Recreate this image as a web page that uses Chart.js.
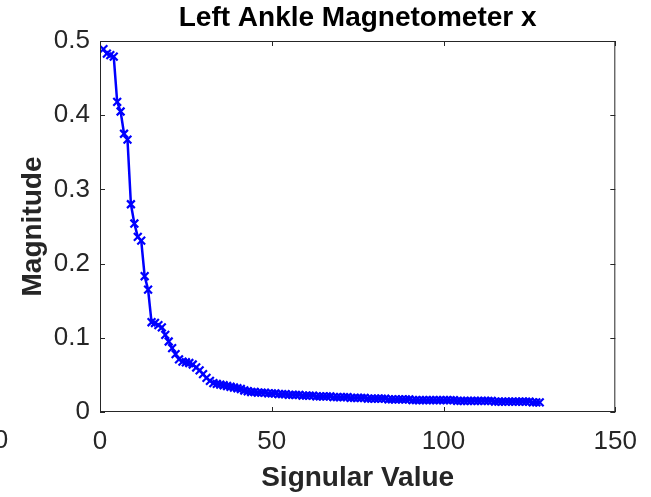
<!DOCTYPE html>
<html>
<head>
<meta charset="utf-8">
<script src="https://cdn.jsdelivr.net/npm/chart.js@4/dist/chart.umd.min.js"></script>
<style>
  html, body { margin: 0; padding: 0; background: #fff; }
  #wrap { width: 651px; height: 497px; }
</style>
</head>
<body>
<div id="wrap"><canvas id="svdChart" width="651" height="497"></canvas></div>
<script>
// singular value magnitudes, index 1..128
const magnitudes = [
  0.489, 0.483, 0.481, 0.479, 0.418, 0.405, 0.375, 0.367, 0.280, 0.254,
  0.236, 0.231, 0.183, 0.165, 0.121, 0.120, 0.117, 0.114, 0.104, 0.095,
  0.086, 0.078, 0.071, 0.068, 0.067, 0.066, 0.064, 0.060, 0.056, 0.051,
  0.046, 0.042, 0.039, 0.038, 0.037, 0.036, 0.035, 0.034, 0.033, 0.032,
  0.031, 0.029, 0.028, 0.027, 0.027, 0.026, 0.026, 0.026, 0.025, 0.025,
  0.025, 0.024, 0.024, 0.024, 0.023, 0.023, 0.023, 0.023, 0.022, 0.022,
  0.022, 0.022, 0.021, 0.021, 0.021, 0.021, 0.021, 0.020, 0.020, 0.020,
  0.020, 0.020, 0.019, 0.019, 0.019, 0.019, 0.019, 0.018, 0.018, 0.018,
  0.018, 0.018, 0.018, 0.017, 0.017, 0.017, 0.017, 0.017, 0.017, 0.017,
  0.016, 0.016, 0.016, 0.016, 0.016, 0.016, 0.016, 0.016, 0.016, 0.016,
  0.016, 0.016, 0.016, 0.015, 0.015, 0.015, 0.015, 0.015, 0.015, 0.015,
  0.015, 0.015, 0.015, 0.015, 0.014, 0.014, 0.014, 0.014, 0.014, 0.014,
  0.014, 0.014, 0.014, 0.014, 0.014, 0.013, 0.013, 0.013
];
const xTicks = [0, 50, 100, 150];
const yTicks = [0, 0.1, 0.2, 0.3, 0.4, 0.5];

const points = magnitudes.map((v, i) => ({ x: i + 1, y: v }));

const axisColor = "#262626";
const fontFamily = "'Liberation Sans', Arial, sans-serif";

// MATLAB-like box with inward ticks, title and axis labels
const matlabFrame = {
  id: "matlabFrame",
  afterDraw(chart) {
    const { ctx, chartArea: a, scales } = chart;
    ctx.save();
    ctx.strokeStyle = axisColor;
    ctx.lineWidth = 1;
    ctx.strokeRect(a.left + 0.5, a.top + 0.5, a.right - a.left - 1, a.bottom - a.top - 1);
    ctx.beginPath();
    const tl = 5;
    xTicks.forEach(t => {
      const px = Math.round(scales.x.getPixelForValue(t)) + 0.5;
      ctx.moveTo(px, a.bottom); ctx.lineTo(px, a.bottom - tl);
      ctx.moveTo(px, a.top); ctx.lineTo(px, a.top + tl);
    });
    yTicks.forEach(t => {
      const py = Math.round(scales.y.getPixelForValue(t)) + 0.5;
      ctx.moveTo(a.left, py); ctx.lineTo(a.left + tl, py);
      ctx.moveTo(a.right, py); ctx.lineTo(a.right - tl, py);
    });
    ctx.stroke();

    ctx.fillStyle = "#000";
    ctx.font = "bold 28px " + fontFamily;
    ctx.textAlign = "center";
    ctx.textBaseline = "middle";
    ctx.fillText("Left Ankle Magnetometer x", (a.left + a.right) / 2, 18);

    ctx.fillStyle = axisColor;
    ctx.font = "bold 28px " + fontFamily;
    ctx.fillText("Signular Value", (a.left + a.right) / 2, 478);

    ctx.save();
    ctx.translate(33, (a.top + a.bottom) / 2);
    ctx.rotate(-Math.PI / 2);
    ctx.fillText("Magnitude", 0, 0);
    ctx.restore();

    // leftover tick label clipped at the left edge
    ctx.font = "26px " + fontFamily;
    ctx.fillText("0", 1, 441);
    ctx.restore();
  }
};

new Chart(document.getElementById("svdChart"), {
  type: "line",
  data: {
    datasets: [{
      data: points,
      borderColor: "#0000ff",
      backgroundColor: "#0000ff",
      borderWidth: 2.5,
      pointStyle: "crossRot",
      pointRadius: 5.5,
      pointBorderWidth: 2.2,
      pointBorderColor: "#0000ff",
      tension: 0
    }]
  },
  options: {
    responsive: false,
    animation: false,
    layout: { padding: { left: 0, right: 35, top: 41, bottom: 0 } },
    plugins: {
      legend: { display: false },
      tooltip: { enabled: false },
      title: { display: false }
    },
    scales: {
      x: {
        type: "linear",
        min: 0,
        max: 150,
        afterBuildTicks: s => { s.ticks = xTicks.map(v => ({ value: v })); },
        afterFit: s => { s.height = 85; },
        grid: { display: false, drawTicks: false },
        border: { display: false },
        ticks: {
          padding: 14,
          color: axisColor,
          font: { size: 26, family: fontFamily },
          maxRotation: 0
        }
      },
      y: {
        min: 0,
        max: 0.5,
        afterBuildTicks: s => { s.ticks = yTicks.map(v => ({ value: v })); },
        afterFit: s => { s.width = 100; },
        grid: { display: false, drawTicks: false },
        border: { display: false },
        ticks: {
          padding: 10,
          color: axisColor,
          font: { size: 26, family: fontFamily },
          callback: v => String(Math.round(v * 10) / 10)
        }
      }
    }
  },
  plugins: [matlabFrame]
});
</script>
</body>
</html>
